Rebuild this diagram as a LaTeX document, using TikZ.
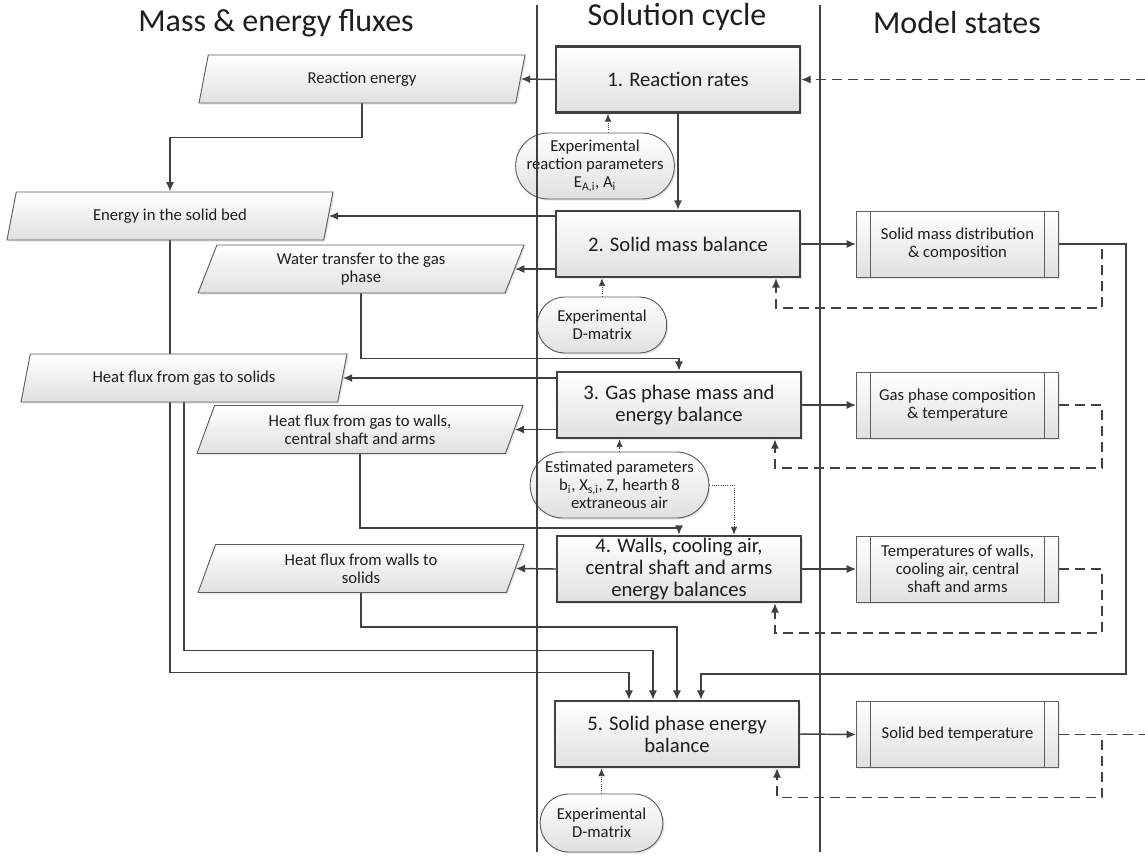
\documentclass[tikz,border=0pt]{standalone}
\usepackage{fontspec}
\setmainfont{Carlito}
\usepackage{tikz}
\usetikzlibrary{shapes,arrows,arrows.meta,shadows,backgrounds}
\usetikzlibrary{shapes.geometric}

\definecolor{linegray}{HTML}{404040}
\definecolor{boxgray}{HTML}{E0E0E0}
\definecolor{textgray}{HTML}{1E1E1E}

\tikzstyle{shade}=[top color=white, bottom color=boxgray, drop shadow={opacity=0.2, shadow xshift=1.2pt, shadow yshift=-1.2pt}]
\tikzstyle{procbox}=[rectangle, shade, draw=linegray, line width=1.8pt, minimum width=183pt, minimum height=49.5pt, inner sep=0.5pt, align=center, text=textgray, font=\fontsize{15.5}{16.5}\selectfont]
\tikzstyle{statebox}=[rectangle, shade, draw=linegray!85, line width=0.7pt, minimum width=151.5pt, minimum height=49.5pt, inner sep=1pt, align=center, text=textgray, font=\fontsize{12.5}{13.5}\selectfont,
  path picture={\draw[linegray!85, line width=0.7pt] ([xshift=10.5pt]path picture bounding box.north west) -- ([xshift=10.5pt]path picture bounding box.south west)
  ([xshift=-10.5pt]path picture bounding box.north east) -- ([xshift=-10.5pt]path picture bounding box.south east);}]
\tikzstyle{fluxbox}=[trapezium, trapezium left angle=61.5, trapezium right angle=118.5, trapezium stretches body, shade, draw=linegray!85, line width=0.7pt, minimum width=244.5pt, minimum height=36pt, inner sep=1pt, align=center, text=textgray, font=\fontsize{12.5}{13.5}\selectfont]
\tikzstyle{parbox}=[rectangle, shade, draw=linegray!85, line width=0.7pt, inner sep=0pt, align=center, text=textgray, font=\fontsize{12.5}{13.5}\selectfont]
\tikzstyle{lanetitle}=[text=textgray, font=\fontsize{24}{28}\selectfont]
\tikzstyle{arr}=[draw=linegray, line width=1.1pt, -{Latex[length=7pt,width=6pt]}]
\tikzstyle{dotarr}=[draw=linegray, line width=0.7pt, densely dotted, -{Latex[length=6pt,width=5pt]}]
\tikzstyle{dasharr}=[draw=linegray, line width=1.1pt, dash pattern=on 7.5pt off 4.5pt, -{Latex[length=7pt,width=6pt]}]
\tikzstyle{laneline}=[draw=linegray, line width=1.5pt]

\begin{document}
\begin{tikzpicture}[x=0.75pt, y=-0.75pt]

        \useasboundingbox (0,0) rectangle (1145,857);

        \node [lanetitle] (t1) at (276,23) {Mass \& energy fluxes};
        \node [lanetitle] (t2) at (677,17) {Solution cycle};
        \node [lanetitle] (t3) at (957,23) {Model states};

        % solution cycle
        \node [procbox] (step1) at (678,79.5) {1. Reaction rates};
        \node [procbox] (step2) at (678,244) {2. Solid mass balance};
        \node [procbox] (step3) at (679,405) {3. Gas phase mass and\\energy balance};
        \node [procbox] (step4) at (679,569) {4. Walls, cooling air,\\central shaft and arms\\energy balances};
        \node [procbox] (step5) at (677,734) {5. Solid phase energy\\balance};

        \node [parbox, minimum width=119pt, minimum height=49.5pt, rounded corners=24.5pt] (e1) at (595,166) {Experimental\\reaction parameters\\E\textsubscript{A,i}, A\textsubscript{i}};
        \node [parbox, minimum width=97pt, minimum height=42pt, rounded corners=20.5pt] (e2) at (602,325) {Experimental\\D-matrix};
        \node [parbox, minimum width=134pt, minimum height=49.5pt, rounded corners=24.5pt] (e3) at (619.5,485) {Estimated parameters\\b\textsubscript{i}, X\textsubscript{s,i}, Z, hearth 8\\extraneous air};
        \node [parbox, minimum width=92pt, minimum height=43.5pt, rounded corners=21.5pt] (e5) at (601.5,823) {Experimental\\D-matrix};

        % fluxes
        \node [fluxbox] (f1) at (362,79) {Reaction energy};
        \node [fluxbox] (f2) at (170,216) {Energy in the solid bed};
        \node [fluxbox] (f3) at (361,269) {Water transfer to the gas\\phase};
        \node [fluxbox] (f4) at (184,378) {Heat flux from gas to solids};
        \node [fluxbox] (f5) at (360,429.5) {Heat flux from gas to walls,\\central shaft and arms};
        \node [fluxbox] (f6) at (361,568.5) {Heat flux from walls to\\solids};

        % model states
        \node [statebox] (m1) at (957.5,244) {Solid mass distribution\\\& composition};
        \node [statebox] (m2) at (957.5,405) {Gas phase composition\\\& temperature};
        \node [statebox] (m3) at (957.5,569) {Temperatures of walls,\\cooling air, central\\shaft and arms};
        \node [statebox] (m4) at (957.5,734.5) {Solid bed temperature};

        \begin{pgfonlayer}{background}
        \draw [arr] (step1.west) -- (f1.east);
        \draw [arr] (f1.south) -- ++(0,34) -| (f2.north);
        \draw [arr] (step1) -- (step2);
        \draw [arr] (f2.east -| step2.west) -- (f2.east);
        \draw [arr] (f3.east -| step2.west) -- (f3.east);
        \draw [arr] (f3.south) -- ++(0,65) -| (step3.north);
        \draw [arr] (f4.east -| step3.west) -- (f4.east);
        \draw [arr] (f5.east -| step3.west) -- (f5.east);
        \draw [arr] (f5.south) -- ++(0,74) -| (step4.north);
        \draw [arr] (step4.west) -- (f6.east);

        \draw [arr] (f2.south) -- ++(0,432) -| ([xshift=-36pt]step5.north);
        \draw [arr] (f4.south) -- ++(0,248) -| ([xshift=-18pt]step5.north);
        \draw [arr] (f6.south) -- ++(0,34) -| (step5.north);

        \draw [dasharr] (m1.east) -- ++(43,0) -- ++(0,64) -| ([xshift=73.5pt]step2.south);
        \draw [dasharr] (m2.east) -- ++(43,0) -- ++(0,63) -| ([xshift=72pt]step3.south);
        \draw [dasharr] (m3.east) -- ++(43,0) -- ++(0,64) -| ([xshift=72pt]step4.south);
        \draw [dasharr] (m4.east) -- ++(43,0) -- ++(0,63) -| ([xshift=75pt]step5.south);
        \draw [dasharr] (m4.east) -- ++(92,0) |- (step1.east);

        \draw [arr] (step2.east) -- (m1.west);
        \draw [arr] (step3.east) -- (m2.west);
        \draw [arr] (step4.east) -- (m3.west);
        \draw [arr] (step5.east) -- (m4.west);
        \draw [arr] (m1.east) -- ++(67,0) -- ++(0,430) -| ([xshift=18pt]step5.north);

        \draw [dotarr] ([xshift=9.75pt]e1.north) -- ([xshift=9.75pt]e1.north |- step1.south);
        \draw [dotarr] (e2.north) -- (e2.north |- step2.south);
        \draw [dotarr] (e3.north) -- (e3.north |- step3.south);
        \draw [dotarr] (e3.east) -| ([xshift=41.25pt]step4.north);
        \draw [dotarr] (e5.north) -- (e5.north |- step5.south);
        \end{pgfonlayer}

        % lanes
        \draw [laneline] (537,5) -- (537,852);
        \draw [laneline] (820,5) -- (820,852);

\end{tikzpicture}
\end{document}
